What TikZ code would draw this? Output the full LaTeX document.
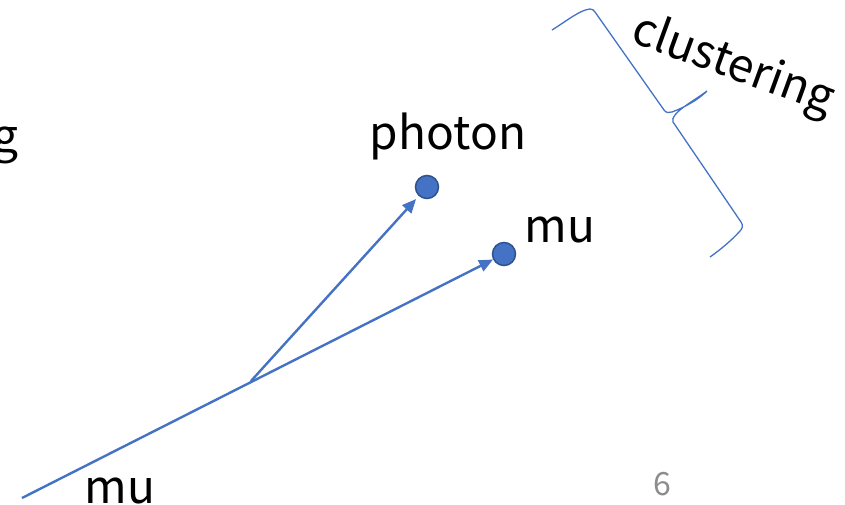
\documentclass[tikz,border=0pt]{standalone}
\usepackage{fontspec}
\setmainfont{Noto Sans CJK JP}
\usetikzlibrary{arrows.meta}
\definecolor{accent}{HTML}{4472C4}
\definecolor{accentdark}{HTML}{2F528F}
\definecolor{pagenum}{HTML}{8C8C8C}
\begin{document}
\begin{tikzpicture}[x=1pt,y=-1pt,
  lbl/.style={font=\fontsize{46}{50}\selectfont, inner sep=0pt, anchor=base},
  particle/.style={circle, fill=accent, draw=accentdark, line width=1.5pt, minimum size=23pt, inner sep=0pt},
  track/.style={draw=accent, line width=2.4pt, -{Triangle[length=14pt,width=12pt]}},
  brace/.style={draw=accent, line width=1.3pt}]
\useasboundingbox (0,0) rectangle (845,505);
\clip (0,0) rectangle (845,505);
% labels
\node[lbl] (g) at (5,153) {g};
\node[lbl] (photonlbl) at (448,150) {photon};
\node[lbl] (mulbl1) at (560,242) {mu};
\node[lbl] (mulbl2) at (120,503) {mu};
\node[font=\fontsize{32}{36}\selectfont, text=pagenum, inner sep=0pt, anchor=base] (pnum) at (662,495) {6};
\node[lbl, rotate=-20, anchor=center] (clus) at (733,66) {clustering};
% particles
\node[particle] (p1) at (427,187) {};
\node[particle] (p2) at (504,254) {};
\coordinate (s) at (22,498);
\coordinate (b) at (251,381);
% tracks
\draw[track] (s) -- (p2);
\draw[track, shorten >=4pt] (b) -- (p1);
% brace
\draw[brace] (552,30) .. controls (568,20) and (580,10) .. (590,9)
  .. controls (592,9) and (594,10) .. (595,12) -- (664,110)
  .. controls (666,113) and (669,113) .. (672,112)
  .. controls (688,106) and (700,98) .. (707,91)
  .. controls (695,100) and (680,108) .. (675,115)
  .. controls (673,118) and (672,120) .. (673,122) -- (741,222)
  .. controls (743,225) and (743,228) .. (740,231)
  .. controls (732,240) and (720,250) .. (710,257);
\end{tikzpicture}
\end{document}
